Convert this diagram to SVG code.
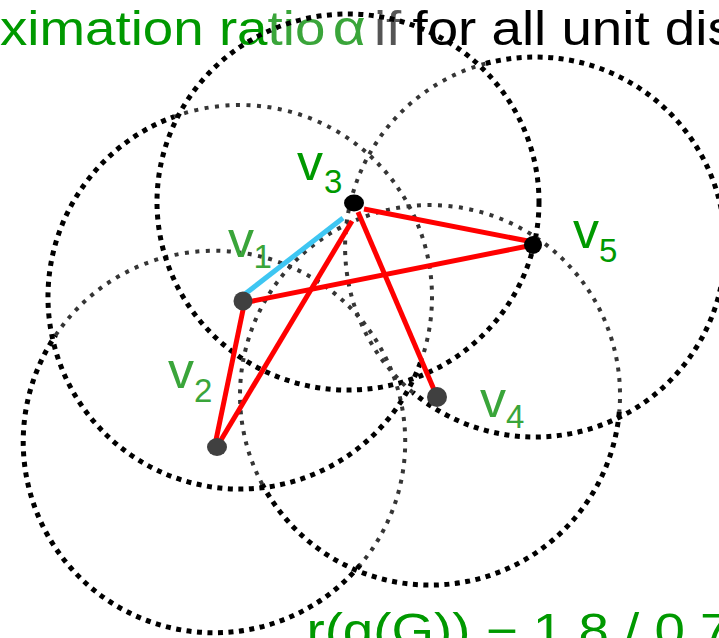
<svg xmlns="http://www.w3.org/2000/svg" width="719" height="638" viewBox="0 0 719 638">
<style>
.big{font-family:"Liberation Sans",Arial,sans-serif;font-size:48px}
.lbl{font-family:"Liberation Sans",Arial,sans-serif;font-size:52px}
.sub{font-size:33px}
.k{fill:none;stroke:#000;stroke-width:5;stroke-dasharray:5 5.5}
.g{fill:none;stroke:#353535;stroke-width:4;stroke-dasharray:4 6.5}
.e{fill:none;stroke:#ff0000;stroke-width:5}
.b{fill:none;stroke:#3ec6f2;stroke-width:5}
.gn{fill:#009900}
.hg{fill:#3aa53a}
</style>
<rect width="719" height="638" fill="#fff"/>
<g id="texts">
<text class="big" transform="scale(1.14 1)" y="45"><tspan x="0" fill="#009900">ximation ra</tspan><tspan fill="#3aa53a">tio</tspan><tspan x="292" fill="#3aa53a" font-size="50">α</tspan><tspan x="328" fill="#555">if</tspan><tspan x="361.8" fill="#000">for all unit dis</tspan></text>
<text class="big gn" transform="scale(1.14 1)" x="268.8" y="647.5">r(g(G)) − 1.8 / 0.7</text>
</g>
<g id="disks">
<g id="disk-v2"><path class="g" d="M55.7,335.2 A191,191 0 1 1 360.3,564.8"/><path class="k" d="M360.3,564.8 A191,191 0 0 1 55.7,335.2"/></g>
<g id="disk-v1"><path class="g" d="M174.3,116.6 A192,192 0 0 1 420.4,362.7"/><path class="k" d="M420.4,362.7 A192,192 0 1 1 174.3,116.6"/></g>
<g id="disk-v3"><ellipse class="k" cx="348" cy="202" rx="191" ry="188"/></g>
<g id="disk-v4"><path class="g" d="M262.2,484.2 A190,190 0 1 1 619.3,411.6"/><path class="k" d="M619.3,411.6 A190,190 0 0 1 262.2,484.2"/></g>
<g id="disk-v5"><path class="g" d="M412.9,392.5 A190,190 0 0 1 485.8,63.5"/><path class="k" d="M485.8,63.5 A190,190 0 1 1 412.9,392.5"/></g>
</g>
<g id="connectors">
<line class="e" x1="364" y1="209" x2="528" y2="241"/>
<line class="e" x1="248" y1="302" x2="528" y2="246"/>
<line class="e" x1="244" y1="305" x2="216" y2="440"/>
<line class="e" x1="221" y1="440" x2="352" y2="221"/>
<line class="e" x1="358" y1="212" x2="435" y2="392"/>
<line class="b" x1="245" y1="294" x2="343" y2="218"/>
</g>
<g id="v1"><circle cx="243" cy="301" r="9.5" fill="#404040"/><text class="lbl hg" x="228" y="257">v<tspan class="sub" x="253.5" y="268">1</tspan></text></g>
<g id="v2"><ellipse cx="217" cy="447" rx="10" ry="9" fill="#404040"/><text class="lbl hg" x="168" y="388">v<tspan class="sub" x="194" y="402">2</tspan></text></g>
<g id="v3"><ellipse cx="354" cy="203" rx="10" ry="8.5" fill="#000"/><text class="lbl gn" x="297" y="180">v<tspan class="sub" x="324" y="193">3</tspan></text></g>
<g id="v4"><circle cx="437" cy="397" r="10" fill="#404040"/><text class="lbl hg" x="480" y="417">v<tspan class="sub" x="506" y="428">4</tspan></text></g>
<g id="v5"><circle cx="533" cy="245" r="9" fill="#000"/><text class="lbl gn" x="573" y="248">v<tspan class="sub" x="599" y="262">5</tspan></text></g>
</svg>
